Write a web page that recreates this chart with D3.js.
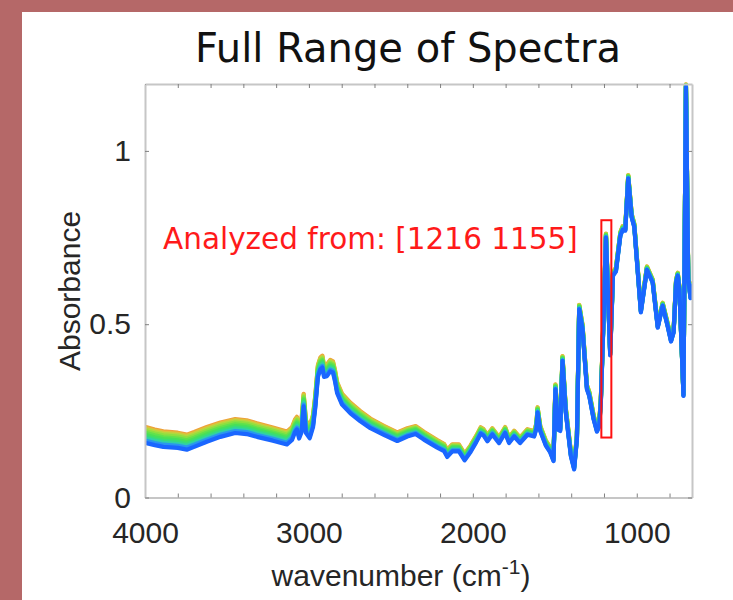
<!DOCTYPE html>
<html>
<head>
<meta charset="utf-8">
<script src="https://cdn.jsdelivr.net/npm/d3@7"></script>
<style>
  html, body { margin: 0; padding: 0; background: #b56868; }
  svg { display: block; }
</style>
</head>
<body>
<svg id="chart" width="733" height="600"></svg>
<script>
// Wavenumber sampling (cm^-1) and absorbance of the lowest spectrum in the set
const wavenumbers = [
  4000, 3940, 3888, 3800, 3745, 3700, 3623, 3540, 3450, 3380, 3317, 3220, 3134,
  3103, 3085, 3073, 3060, 3045, 3032, 3018, 2995, 2975, 2961, 2945, 2930, 2918,
  2908, 2890, 2870, 2853, 2840, 2828, 2798, 2747, 2686, 2625, 2543, 2461, 2400,
  2349, 2299, 2217, 2176, 2156, 2125, 2085, 2050, 2013, 1980, 1952, 1935, 1911,
  1881, 1860, 1840, 1803, 1779, 1748, 1712, 1667, 1626, 1612, 1605, 1589, 1555,
  1528, 1508, 1496, 1485, 1479, 1467, 1453, 1433, 1402, 1382, 1365, 1351, 1331,
  1304, 1290, 1263, 1243, 1229, 1219, 1200, 1188, 1162, 1145, 1127, 1100, 1086,
  1070, 1052, 1031, 1015, 975, 938, 903, 872, 842, 812, 791, 775, 760, 750, 740,
  715, 700, 686, 672, 663
];
const absorbance = [
  0.158, 0.151, 0.146, 0.143, 0.138, 0.146, 0.161, 0.175, 0.186, 0.183, 0.175, 0.164, 0.153,
  0.166, 0.188, 0.196, 0.170, 0.188, 0.263, 0.186, 0.171, 0.203, 0.260, 0.348, 0.370, 0.375,
  0.348, 0.350, 0.364, 0.360, 0.333, 0.301, 0.268, 0.243, 0.220, 0.200, 0.181, 0.163, 0.176,
  0.183, 0.167, 0.144, 0.134, 0.117, 0.133, 0.133, 0.107, 0.132, 0.159, 0.184, 0.179, 0.162,
  0.182, 0.169, 0.157, 0.186, 0.157, 0.176, 0.157, 0.181, 0.176, 0.199, 0.245, 0.192, 0.150,
  0.130, 0.105, 0.312, 0.230, 0.195, 0.192, 0.394, 0.245, 0.119, 0.081, 0.168, 0.543, 0.486,
  0.312, 0.293, 0.225, 0.190, 0.205, 0.274, 0.550, 0.750, 0.410, 0.640, 0.652, 0.755, 0.772,
  0.770, 0.920, 0.808, 0.780, 0.534, 0.657, 0.620, 0.490, 0.553, 0.495, 0.450, 0.476, 0.620,
  0.640, 0.600, 0.293, 1.184, 0.630, 0.575, 0.610
];

// Baseline spread between the lowest and the highest spectrum
const spreadWavenumbers = [4000, 3000, 2500, 2000, 1000, 663];
const spreadTop = [0.046, 0.036, 0.025, 0.019, 0.010, 0.008];

// Spectra drawn from the highest (orange) down to the lowest (blue)
const spectrumLevels = [1.0, 0.92, 0.84, 0.74, 0.62, 0.5, 0.38, 0.26, 0.14, 0.0];
const spectrumColors = ["#eea23a", "#dcc23a", "#b4d83e", "#8ce040", "#62e24c",
                        "#48e058", "#38dc78", "#30d0a8", "#2a96ee", "#1a66ff"];

// Axis ticks
const xTickValues = [4000, 3800, 3600, 3400, 3200, 3000, 2800, 2600, 2400, 2200,
                     2000, 1800, 1600, 1400, 1200, 1000, 800];
const xTickLabels = {4000: "4000", 3000: "3000", 2000: "2000", 1000: "1000"};
const yTickValues = [0, 0.5, 1];
const yTickLabels = ["0", "0.5", "1"];

// Analyzed window
const analyzedRange = [1216, 1155];
const analyzedAbsorbance = [0.173, 0.8];

const svg = d3.select("#chart");

// White figure panel
svg.append("rect")
  .attr("x", 22).attr("y", 12)
  .attr("width", 733 - 22).attr("height", 600 - 12)
  .attr("fill", "#ffffff");

const plot = { left: 145, right: 692, top: 84, bottom: 497.5 };

const x = d3.scaleLinear().domain([4000, 663]).range([plot.left, plot.right]);
const y = d3.scaleLinear().domain([0, 1.193]).range([plot.bottom, plot.top]);
const spread = d3.scaleLinear().domain(spreadWavenumbers).range(spreadTop);

// Title
svg.append("text")
  .attr("x", 408).attr("y", 62)
  .attr("text-anchor", "middle")
  .attr("font-family", "DejaVu Sans, Verdana, sans-serif")
  .attr("font-size", 40)
  .attr("fill", "#111")
  .text("Full Range of Spectra");

// Spectra
svg.append("clipPath").attr("id", "plot-clip")
  .append("rect")
  .attr("x", plot.left).attr("y", plot.top - 4)
  .attr("width", plot.right - plot.left).attr("height", plot.bottom - plot.top + 4);

const points = wavenumbers.map((w, i) => ({ w, a: absorbance[i] }));
const lines = svg.append("g").attr("clip-path", "url(#plot-clip)");

spectrumLevels.forEach((level, k) => {
  const line = d3.line()
    .x(d => x(d.w))
    .y(d => y(d.a + level * spread(d.w)))
    .curve(d3.curveLinear);
  lines.append("path")
    .datum(points)
    .attr("d", line)
    .attr("fill", "none")
    .attr("stroke", spectrumColors[k])
    .attr("stroke-width", 4.2)
    .attr("stroke-linejoin", "round")
    .attr("stroke-linecap", "round");
});

// Axes (box with inward ticks)
const axisColor = "#c6c6c6";
const tickColor = "#808080";
const labelFont = "Liberation Sans, Arial, Helvetica, sans-serif";

function styleAxis(g) {
  g.select(".domain").attr("stroke", axisColor).attr("stroke-width", 2);
  g.selectAll(".tick line").attr("stroke", tickColor).attr("stroke-width", 1);
  g.selectAll(".tick text")
    .attr("fill", "#262626")
    .attr("font-family", labelFont)
    .attr("font-size", 30);
}

svg.append("g")
  .attr("transform", `translate(0,${plot.bottom})`)
  .call(d3.axisBottom(x).tickValues(xTickValues).tickSize(-4).tickSizeOuter(0)
    .tickPadding(24).tickFormat(d => xTickLabels[d] || ""))
  .call(styleAxis);

svg.append("g")
  .attr("transform", `translate(0,${plot.top})`)
  .call(d3.axisTop(x).tickValues(xTickValues).tickSize(-4).tickSizeOuter(0).tickFormat(""))
  .call(styleAxis);

svg.append("g")
  .attr("transform", `translate(${plot.left},0)`)
  .call(d3.axisLeft(y).tickValues(yTickValues).tickSize(-4).tickSizeOuter(0)
    .tickPadding(14).tickFormat((d, i) => yTickLabels[i]))
  .call(styleAxis);

svg.append("g")
  .attr("transform", `translate(${plot.right},0)`)
  .call(d3.axisRight(y).tickValues(yTickValues).tickSize(-4).tickSizeOuter(0).tickFormat(""))
  .call(styleAxis);

// Analyzed window box and note
svg.append("rect")
  .attr("x", x(analyzedRange[0]))
  .attr("y", y(analyzedAbsorbance[1]))
  .attr("width", x(analyzedRange[1]) - x(analyzedRange[0]))
  .attr("height", y(analyzedAbsorbance[0]) - y(analyzedAbsorbance[1]))
  .attr("fill", "none")
  .attr("stroke", "#ff1010")
  .attr("stroke-width", 2);

svg.append("text")
  .attr("x", 163).attr("y", 249)
  .attr("font-family", "DejaVu Sans, Verdana, sans-serif")
  .attr("font-size", 29.5)
  .attr("fill", "#ff1a1a")
  .text(`Analyzed from: [${analyzedRange[0]} ${analyzedRange[1]}]`);

// Axis titles
svg.append("text")
  .attr("transform", "translate(80,291) rotate(-90)")
  .attr("text-anchor", "middle")
  .attr("font-family", labelFont)
  .attr("font-size", 30)
  .attr("fill", "#262626")
  .text("Absorbance");

const xlabel = svg.append("text")
  .attr("x", 401).attr("y", 586)
  .attr("text-anchor", "middle")
  .attr("font-family", labelFont)
  .attr("font-size", 30)
  .attr("fill", "#262626");
xlabel.append("tspan").text("wavenumber (cm");
xlabel.append("tspan").attr("dy", -12).attr("font-size", 21).text("-1");
xlabel.append("tspan").attr("dy", 12).text(")");
</script>
</body>
</html>
